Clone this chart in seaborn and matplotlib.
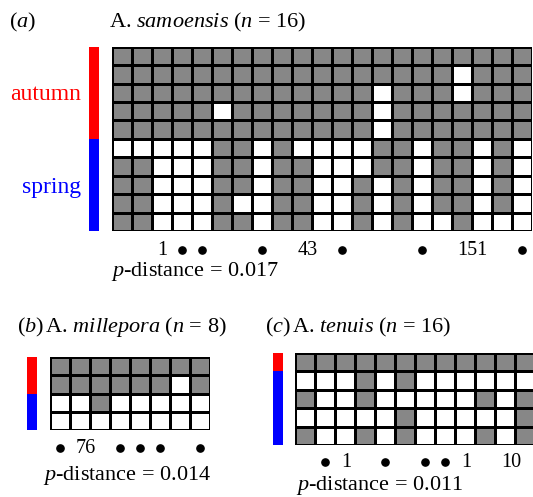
import numpy as np
import matplotlib
matplotlib.use("Agg")
import matplotlib.pyplot as plt
import matplotlib.transforms as mtransforms
from matplotlib.colors import ListedColormap
import seaborn as sns

# haplotype grids: 1 = grey cell, 0 = white cell (rows top to bottom)
samoensis_rows = [
    "111111111111111111111",
    "111111111111111110111",
    "111111111111101110111",
    "111110111111101111111",
    "111111111111101111111",
    "000001101000011011010",
    "110001101100011011010",
    "110001101100101011010",
    "110001001100101011010",
    "110001101100101001000",
]
samoensis_autumn = 5
samoensis_spring = 5
samoensis_sites = {2: "1", 3: "•", 4: "•", 7: "•", 9: "43", 11: "•",
                   15: "•", 17: "151", 20: "•"}

millepora_rows = [
    "11111111",
    "11111101",
    "00100000",
    "00000000",
]
millepora_autumn = 2
millepora_spring = 2
millepora_sites = {0: "•", 1: "76", 3: "•", 4: "•", 5: "•", 7: "•"}

tenuis_rows = [
    "111111111111",
    "000101000000",
    "100100000101",
    "000001000001",
    "100101000101",
]
tenuis_autumn = 1
tenuis_spring = 4
tenuis_sites = {1: "•", 2: "1", 4: "•", 6: "•", 7: "•", 8: "1", 10: "10"}

titles = ["A. $samoensis$ ($n$ = 16)", "A. $millepora$ ($n$ = 8)", "A. $tenuis$ ($n$ = 16)"]
pdist = ["0.017", "0.014", "0.011"]

plt.rcParams["font.family"] = ["Liberation Serif", "DejaVu Serif"]
plt.rcParams["mathtext.fontset"] = "custom"
plt.rcParams["mathtext.rm"] = "Liberation Serif"
plt.rcParams["mathtext.it"] = "Liberation Serif:italic"

W, H = 533, 497
fig = plt.figure(figsize=(W / 100, H / 100), dpi=100)


def box(x0, y0, x1, y1):
    return [x0 / W, 1 - y1 / H, (x1 - x0) / W, (y1 - y0) / H]


def panel(rows, n_aut, n_spr, sites, gx, gy0, gy1, bx, lab_y):
    mat = np.array([[int(c) for c in r] for r in rows])
    ncol = mat.shape[1]
    ax = fig.add_axes(box(gx, gy0, gx + 20 * ncol, gy1))
    sns.heatmap(mat, cmap=ListedColormap(["white", "#878787"]), vmin=0, vmax=1,
                cbar=False, linewidths=0.8, linecolor="black",
                xticklabels=False, yticklabels=False, ax=ax)

    season = np.array([[0]] * n_aut + [[1]] * n_spr)
    axb = fig.add_axes(box(bx, gy0, bx + 10, gy1))
    sns.heatmap(season, cmap=ListedColormap(["#ff0000", "#0000ff"]), vmin=0, vmax=1,
                cbar=False, xticklabels=False, yticklabels=False, ax=axb)

    tr = mtransforms.blended_transform_factory(ax.transData, fig.transFigure)
    for col, s in sites.items():
        if s == "•":
            ax.plot(col + 0.5, 1 - (lab_y - 5) / H, "o", color="black",
                    markersize=5.2, transform=tr, clip_on=False)
        else:
            ax.text(col + 0.3, 1 - lab_y / H, s, transform=tr, ha="left",
                    va="baseline", fontsize=14.5)
    return ax


panel(samoensis_rows, samoensis_autumn, samoensis_spring, samoensis_sites,
      111.7, 46.7, 231, 89, 255)
panel(millepora_rows, millepora_autumn, millepora_spring, millepora_sites,
      50, 357, 430, 27, 453)
panel(tenuis_rows, tenuis_autumn, tenuis_spring, tenuis_sites,
      295, 353, 445, 273, 467)

# headings
fig.text(9 / W, 1 - 27 / H, "($a$)", fontsize=16, va="baseline")
fig.text(109 / W, 1 - 27 / H, titles[0], fontsize=16, va="baseline")
fig.text(17 / W, 1 - 332 / H, r"($b$)$\,$" + titles[1], fontsize=16, va="baseline")
fig.text(265 / W, 1 - 332 / H, r"($c$)$\,$" + titles[2], fontsize=16, va="baseline")

# season labels
fig.text(81 / W, 1 - 100 / H, "autumn", color="#ff0000", fontsize=17,
         ha="right", va="baseline")
fig.text(81 / W, 1 - 193 / H, "spring", color="#0000ff", fontsize=17,
         ha="right", va="baseline")

# p-distances
fig.text(111 / W, 1 - 276 / H, "$p$-distance = " + pdist[0], fontsize=16, va="baseline")
fig.text(43 / W, 1 - 480 / H, "$p$-distance = " + pdist[1], fontsize=16, va="baseline")
fig.text(296 / W, 1 - 490 / H, "$p$-distance = " + pdist[2], fontsize=16, va="baseline")

fig.savefig("out.png", dpi=100)
